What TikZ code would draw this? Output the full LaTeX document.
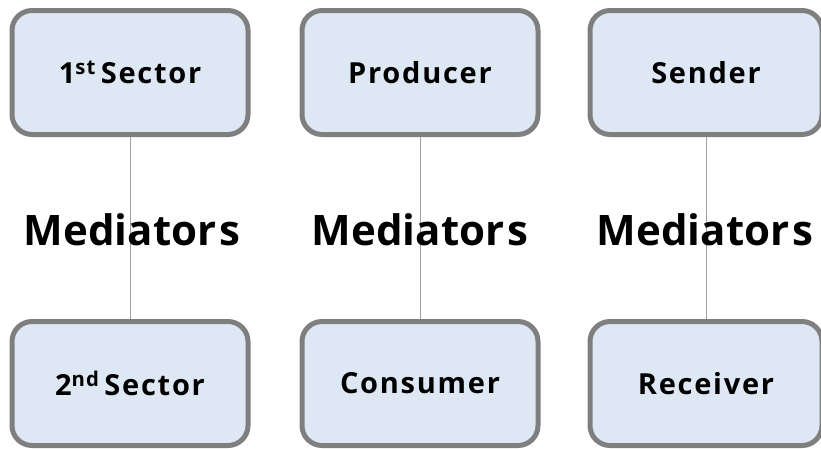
\documentclass[tikz,border=0pt]{standalone}
\usepackage{fontspec}
\setmainfont{Open Sans}
\newfontfamily\boxfont[LetterSpace=6]{Open Sans}
\definecolor{boxfill}{HTML}{DEE8F5}
\definecolor{boxline}{HTML}{7F7F7F}
\definecolor{linkgray}{HTML}{A0A0A0}
\begin{document}
\begin{tikzpicture}[x=1pt,y=-1pt,
  rolebox/.style={draw=boxline,fill=boxfill,line width=5pt,rounded corners=20pt,
    minimum width=236pt,minimum height=124pt,inner sep=0pt,
    font=\boxfont\fontsize{29}{34}\selectfont\bfseries},
  medlabel/.style={anchor=base,inner sep=0pt,font=\fontsize{42}{50}\selectfont\bfseries},
  link/.style={draw=linkgray,line width=1pt}]
\useasboundingbox (0,0) rectangle (821,448);

% top row
\node[rolebox] (first) at (130,72.5) {1\textsuperscript{st}\,Sector};
\node[rolebox] (producer) at (420,72.5) {Producer};
\node[rolebox,minimum width=232pt] (sender) at (706,72.5) {Sender};

% bottom row
\node[rolebox] (second) at (130,383.5) {2\textsuperscript{nd}\,Sector};
\node[rolebox] (consumer) at (420,383.5) {Consumer};
\node[rolebox,minimum width=232pt] (receiver) at (706,383.5) {Receiver};

% links
\draw[link] (first.south) -- (second.north);
\draw[link] (producer.south) -- (consumer.north);
\draw[link] (sender.south) -- (receiver.north);

% mediators
\node[medlabel] (med1) at (132,245) {Mediator\kern3pt s};
\node[medlabel] (med2) at (420,245) {Mediator\kern3pt s};
\node[medlabel] (med3) at (705,245) {Mediator\kern3pt s};
\end{tikzpicture}
\end{document}
